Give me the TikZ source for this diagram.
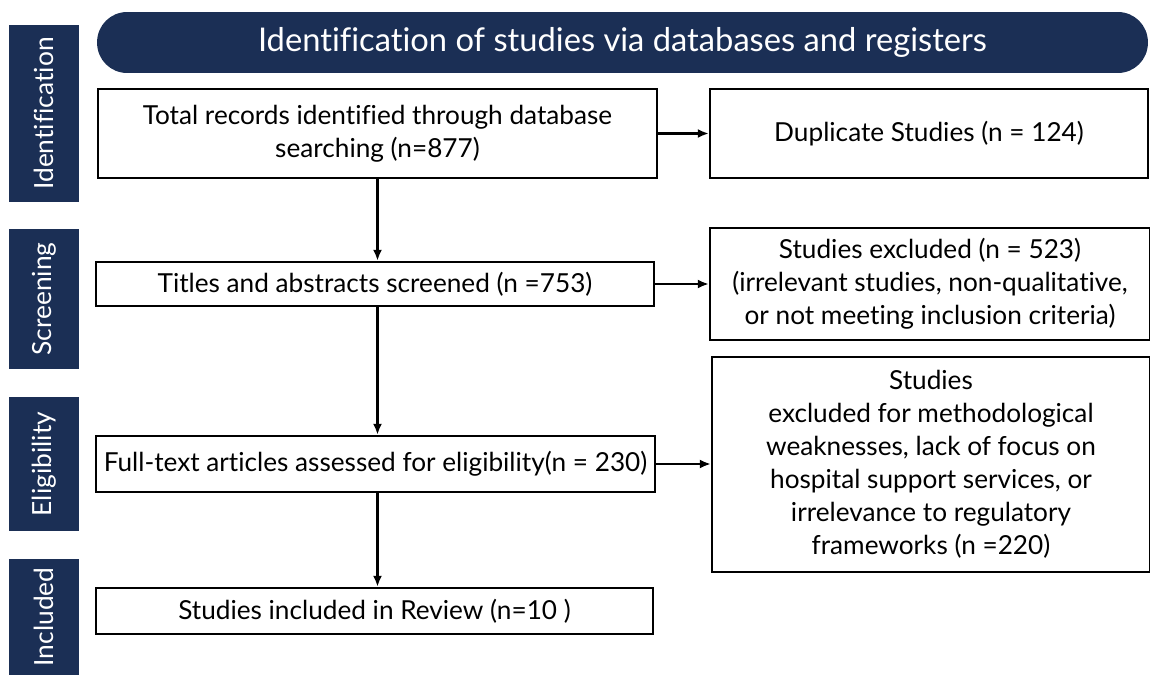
\documentclass[tikz,border=0pt]{standalone}
\usepackage{fontspec}
\setmainfont{Lato}[Ligatures=CommonOff]
\usepackage{xcolor}
\usepackage{tikz}
\usetikzlibrary{arrows.meta}
\definecolor{navy}{HTML}{1B2F55}

\begin{document}
\begin{tikzpicture}[x=0.02cm, y=-0.02cm,
  every node/.style={inner sep=0pt, align=center, font=\fontsize{14.9}{18.8}\selectfont},
  box/.style={draw, line width=1.4pt},
  stage/.style={fill=navy, text=white, rotate=90, minimum height=1.4cm, font=\fontsize{15}{17}\selectfont},
  arr/.style={line width=1.2pt, -{Latex[length=2.2mm, width=1.8mm]}}]
\useasboundingbox (0,0) rectangle (1150,675);

\node[stage, minimum width=3.54cm] (sid) at (44,113.5) {Identification};
\node[stage, minimum width=2.8cm] (sscr) at (44,299) {Screening};
\node[stage, minimum width=2.68cm] (selig) at (44,464) {Eligibility};
\node[stage, minimum width=2.32cm] (sinc) at (44,617) {Included};

\node[fill=navy, text=white, rounded corners=0.6cm, minimum width=21.02cm, minimum height=1.22cm,
  font=\fontsize{18.6}{20}\selectfont] (head) at (622.5,42.5) {Identification of studies via databases and registers};

\node[box, minimum width=11.18cm, minimum height=1.78cm] (rec) at (377.5,133.5) {Total records identified through database\\searching (n=877)};
\node[box, minimum width=8.76cm, minimum height=1.78cm] (dup) at (929,133.5) {Duplicate Studies (n = 124)};
\node[box, minimum width=11.16cm, minimum height=0.88cm] (scr) at (375,284) {Titles and abstracts screened (n =753)};
\node[box, minimum width=8.8cm, minimum height=2.24cm] (exa) at (930,284) {Studies excluded (n = 523)\\(irrelevant studies, non-qualitative,\\or not meeting inclusion criteria)};
\node[box, minimum width=11.18cm, minimum height=1.12cm] (full) at (375.5,464) {Full-text articles assessed for eligibility(n = 230)};
\node[box, minimum width=8.76cm, minimum height=4.3cm] (exb) at (931,464.5) {Studies\\excluded for methodological\\weaknesses, lack of focus on\\hospital support services, or\\irrelevance to regulatory\\frameworks (n =220)};
\node[box, minimum width=11.14cm, minimum height=0.92cm] (inc) at (374.5,611) {Studies included in Review (n=10 )};

\draw[arr] (rec.south) -- (rec.south |- scr.north);
\draw[arr] (rec.south |- scr.south) -- (rec.south |- full.north);
\draw[arr] (rec.south |- full.south) -- (rec.south |- inc.north);
\draw[arr] (rec.east) -- (dup.west);
\draw[arr] (scr.east) -- (scr.east -| exa.west);
\draw[arr] (full.east) -- (full.east -| exb.west);
\end{tikzpicture}
\end{document}
